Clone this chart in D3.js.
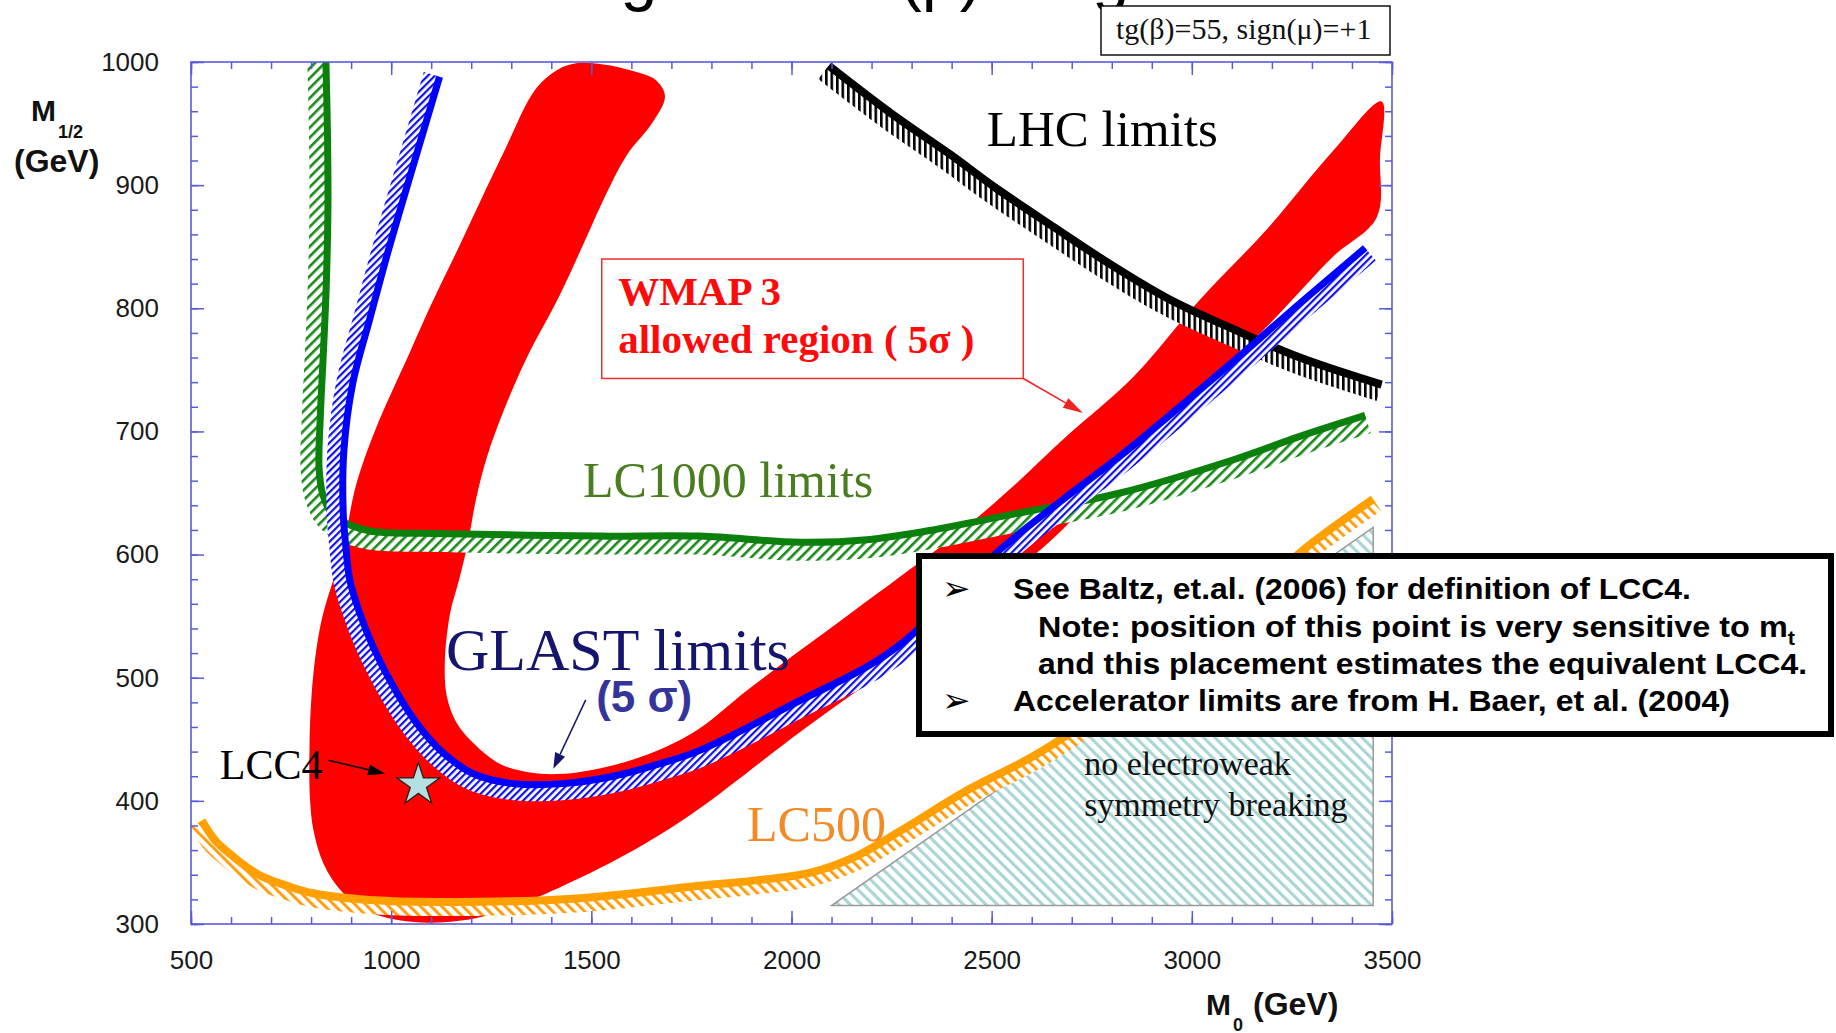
<!DOCTYPE html>
<html>
<head>
<meta charset="utf-8">
<script src="https://cdn.jsdelivr.net/npm/d3@7"></script>
<style>
  body { margin: 0; background: #fff; }
  svg { display: block; }
</style>
</head>
<body>
<svg id="chart" width="1836" height="1033"></svg>
<script>
// ---- datos (M0, M1/2 en GeV) ----
const xTickLabels = [500, 1000, 1500, 2000, 2500, 3000, 3500];
const yTickLabels = [300, 400, 500, 600, 700, 800, 900, 1000];

// región permitida WMAP 3 (contorno cerrado)
const wmapRegion = [
  [1462, 999], [1417, 994], [1361, 978], [1283, 928], [1230, 892], [1165, 847], [1100, 803],
  [1049, 766], [960, 701], [912, 656], [880, 606], [855, 579], [830, 552], [814, 525],
  [801, 485], [796, 444], [797, 403], [806, 376], [831, 349], [872, 328], [922, 314],
  [989, 305], [1089, 301], [1180, 303], [1264, 309], [1305, 314], [1389, 325], [1513, 344],
  [1638, 366], [1771, 394], [2030, 458], [2296, 520], [2500, 572], [2650, 612], [2771, 652],
  [2900, 695], [3020, 734], [3187, 785], [3353, 842], [3462, 874], [3470, 922], [3474, 968],
  [3353, 928], [3187, 864], [3020, 807], [2853, 744], [2687, 696], [2562, 658], [2438, 623],
  [2271, 582], [2146, 552], [2021, 522], [1890, 490], [1771, 459], [1680, 443], [1555, 429],
  [1430, 422], [1347, 423], [1272, 430], [1205, 447], [1164, 463], [1139, 485], [1134, 512],
  [1147, 552], [1170, 580], [1192, 610], [1212, 645], [1240, 680], [1280, 716], [1339, 760],
  [1420, 810], [1480, 852], [1530, 888], [1590, 925], [1651, 950], [1684, 972], [1662, 985],
  [1600, 993], [1530, 998]
];

// límite GLAST (5 sigma)
const glastLimit = [
  [1121, 988], [1057, 918], [993, 847], [948, 793], [904, 739], [882, 685], [880, 636],
  [886, 609], [897, 579], [922, 552], [955, 525], [1005, 493], [1064, 463], [1130, 439],
  [1205, 422], [1305, 414], [1430, 414], [1555, 420], [1680, 431], [1771, 441], [2000, 478],
  [2251, 522], [2521, 604], [2687, 647], [2821, 680], [3104, 757], [3270, 804], [3433, 849]
];

// límite LC1000
const lc1000Limit = [
  [837, 1000], [841, 940], [842, 880], [838, 820], [831, 766], [823, 712], [820, 670],
  [830, 648], [855, 632], [897, 624], [950, 619], [1138, 617], [1521, 615], [1771, 615],
  [2021, 610], [2188, 612], [2354, 620], [2479, 628], [2604, 636], [2821, 650], [3104, 677],
  [3270, 696], [3433, 713]
];

// límite LC500
const lc500Limit = [
  [527, 384], [560, 368], [597, 357], [640, 346], [681, 338], [740, 331], [805, 325],
  [972, 319], [1222, 318], [1472, 321], [1771, 331], [1900, 335], [2050, 342], [2161, 355],
  [2274, 376], [2441, 409], [2608, 437], [2800, 478], [3000, 527], [3150, 566], [3287, 606],
  [3453, 645]
];

// límite LHC
const lhcLimit = [
  [2093, 997], [2250, 958], [2396, 925], [2509, 898], [2655, 866], [2800, 835], [2940, 808],
  [3104, 783], [3270, 760], [3474, 738]
];

// sin ruptura electrodébil
const noEwsbRegion = [[2100, 315], [3453, 315], [3453, 622]];

const lcc4Point = [1068, 413];

// ---- escalas ----
const svg = d3.select('#chart');
const x = d3.scaleLinear().domain([500, 3500]).range([191, 1392]);
const y = d3.scaleLinear().domain([300, 1000]).range([924, 62]);

const frameColor = '#5a5ad8';
const serif = '"Liberation Serif", "Times New Roman", serif';
const sans = '"Liberation Sans", Arial, sans-serif';

const defs = svg.append('defs');
defs.append('clipPath').attr('id', 'plotClip')
  .append('rect')
  .attr('x', x(500)).attr('y', y(1000))
  .attr('width', x(3500) - x(500)).attr('height', y(300) - y(1000));

// rayado: franjas verticales giradas
function hatch(id, color, period, width, angle, bg) {
  const p = defs.append('pattern').attr('id', id)
    .attr('patternUnits', 'userSpaceOnUse')
    .attr('width', period).attr('height', period)
    .attr('patternTransform', `rotate(${angle})`);
  if (bg) p.append('rect').attr('width', period).attr('height', period).attr('fill', bg);
  p.append('rect').attr('width', width).attr('height', period).attr('fill', color);
}
hatch('hBlue', '#1010f0', 5, 2.2, 45, '#fff');
hatch('hGreen', '#178a17', 7, 2.6, 45, '#fff');
hatch('hOrange', '#ff9f10', 7.5, 3, -45, '#fff');
hatch('hBlack', '#000', 5.5, 2.6, 0, '#fff');
hatch('hTeal', '#a9d6d6', 8, 3.2, -45, '#fff');

const plot = svg.append('g').attr('clip-path', 'url(#plotClip)');

const curveLine = d3.line().x(d => x(d[0])).y(d => y(d[1])).curve(d3.curveCatmullRom.alpha(0.5));

function samplePath(pts) {
  const tmp = svg.append('path').attr('d', curveLine(pts));
  const node = tmp.node();
  const L = node.getTotalLength();
  const n = Math.ceil(L / 2);
  const out = d3.range(n + 1).map(i => {
    const p = node.getPointAtLength(L * i / n);
    return [p.x, p.y];
  });
  tmp.remove();
  return out;
}

// banda a un lado de la curva (normal = (-dy, dx))
function bandPath(s, w) {
  const off = s.map((p, i) => {
    const a = s[Math.max(i - 2, 0)], b = s[Math.min(i + 2, s.length - 1)];
    const dx = b[0] - a[0], dy = b[1] - a[1], l = Math.hypot(dx, dy) || 1;
    return [p[0] - dy / l * w, p[1] + dx / l * w];
  });
  return 'M' + s.concat(off.reverse()).map(p => p[0].toFixed(1) + ',' + p[1].toFixed(1)).join('L') + 'Z';
}

function limitCurve(pts, color, lineW, hatchW, pattern) {
  const s = samplePath(pts);
  plot.append('path').attr('d', bandPath(s, lineW / 2 + hatchW)).attr('fill', `url(#${pattern})`);
  plot.append('path').attr('d', curveLine(pts))
    .attr('fill', 'none').attr('stroke', color).attr('stroke-width', lineW)
    .attr('stroke-linejoin', 'round');
}

// 1. WMAP
plot.append('path')
  .datum(wmapRegion)
  .attr('d', d3.line().x(d => x(d[0])).y(d => y(d[1])).curve(d3.curveCatmullRomClosed.alpha(0.5)))
  .attr('fill', '#ff0000');

// 2. sin EWSB
plot.append('path')
  .datum(noEwsbRegion)
  .attr('d', d => 'M' + d.map(p => [x(p[0]), y(p[1])].join(',')).join('L') + 'Z')
  .attr('fill', 'url(#hTeal)')
  .attr('stroke', '#9a9a9a').attr('stroke-width', 1.5);

// 3. curvas de límite
limitCurve(lhcLimit, '#000', 8, 13, 'hBlack');
limitCurve(lc1000Limit, '#0c800c', 7, 15, 'hGreen');
limitCurve(glastLimit, '#0000ff', 7, 13, 'hBlue');
limitCurve(lc500Limit, '#ffa000', 8, 10, 'hOrange');

// estrella LCC4
svg.append('path')
  .attr('transform', `translate(${x(lcc4Point[0])},${y(lcc4Point[1])})`)
  .attr('d', d3.symbol(d3.symbolStar).size(560)())
  .attr('fill', '#b6dfe1').attr('stroke', '#222').attr('stroke-width', 1.3);

// flechas
function arrow(p0, p1, color, len, wid, sw) {
  const x0 = x(p0[0]), y0 = y(p0[1]), x1 = x(p1[0]), y1 = y(p1[1]);
  const a = Math.atan2(y1 - y0, x1 - x0);
  const bx = x1 - Math.cos(a) * len, by = y1 - Math.sin(a) * len;
  svg.append('line').attr('x1', x0).attr('y1', y0).attr('x2', bx).attr('y2', by)
    .attr('stroke', color).attr('stroke-width', sw);
  const nx = -Math.sin(a) * wid / 2, ny = Math.cos(a) * wid / 2;
  svg.append('path')
    .attr('d', `M${x1},${y1}L${bx + nx},${by + ny}L${bx - nx},${by - ny}Z`)
    .attr('fill', color);
}

// etiquetas dentro del gráfico
function label(txt, px, py, opts) {
  return svg.append('text')
    .attr('x', x(px)).attr('y', y(py))
    .attr('font-family', opts.family || serif)
    .attr('font-size', opts.size)
    .attr('font-weight', opts.weight || 'normal')
    .attr('fill', opts.color || '#000')
    .text(txt);
}

label('LHC limits', 2488, 932, { size: 51 });
label('LC1000 limits', 1479, 647, { size: 50, color: '#4a7d20' });
label('GLAST limits', 1137, 506, { size: 60, color: '#15156e' });
label('(5 σ)', 1512, 472, { size: 44, family: sans, weight: 'bold', color: '#34349a' });
label('LCC4', 572, 418, { size: 42 });
label('LC500', 1889, 367, { size: 50, color: '#f28a26' });
label('no electroweak', 2731, 421, { size: 34, color: '#111' });
label('symmetry breaking', 2731, 388, { size: 34, color: '#111' });

arrow([1486, 482], [1405, 426], '#15156e', 16, 11, 1.5);
arrow([843, 433], [985, 422], '#000', 17, 11, 1.6);

// caja WMAP
svg.append('rect')
  .attr('x', x(1526)).attr('y', y(840))
  .attr('width', x(2579) - x(1526)).attr('height', y(743) - y(840))
  .attr('fill', '#fff').attr('stroke', '#e83030').attr('stroke-width', 1.5);
label('WMAP 3', 1567, 803, { size: 41, weight: 'bold', color: '#ff0a0a' });
label('allowed region ( 5σ )', 1567, 764, { size: 41, weight: 'bold', color: '#ff0a0a' });
arrow([2579, 743], [2728, 715], '#ee2222', 20, 11, 1.5);

// ---- ejes ----
function styleAxis(sel) {
  sel.select('.domain').remove();
  sel.selectAll('line').attr('stroke', frameColor).attr('stroke-width', 1.5);
  sel.selectAll('text').attr('font-family', sans).attr('font-size', 26).attr('fill', '#1a1a1a');
}
svg.append('g').attr('transform', `translate(0,${y(300)})`)
  .call(d3.axisBottom(x).ticks(30).tickFormat('').tickSizeInner(-7).tickSizeOuter(0)).call(styleAxis);
svg.append('g').attr('transform', `translate(0,${y(300)})`)
  .call(d3.axisBottom(x).tickValues(xTickLabels).tickFormat(d3.format('d')).tickSizeInner(-13).tickSizeOuter(0).tickPadding(27))
  .call(styleAxis);
svg.append('g').attr('transform', `translate(0,${y(1000)})`)
  .call(d3.axisTop(x).ticks(30).tickFormat('').tickSizeInner(-7).tickSizeOuter(0)).call(styleAxis);
svg.append('g').attr('transform', `translate(0,${y(1000)})`)
  .call(d3.axisTop(x).tickValues(xTickLabels).tickFormat('').tickSizeInner(-13).tickSizeOuter(0)).call(styleAxis);
svg.append('g').attr('transform', `translate(${x(500)},0)`)
  .call(d3.axisLeft(y).ticks(35).tickFormat('').tickSizeInner(-7).tickSizeOuter(0)).call(styleAxis);
svg.append('g').attr('transform', `translate(${x(500)},0)`)
  .call(d3.axisLeft(y).tickValues(yTickLabels).tickFormat(d3.format('d')).tickSizeInner(-13).tickSizeOuter(0).tickPadding(32))
  .call(styleAxis);
svg.append('g').attr('transform', `translate(${x(3500)},0)`)
  .call(d3.axisRight(y).ticks(35).tickFormat('').tickSizeInner(-7).tickSizeOuter(0)).call(styleAxis);
svg.append('g').attr('transform', `translate(${x(3500)},0)`)
  .call(d3.axisRight(y).tickValues(yTickLabels).tickFormat('').tickSizeInner(-13).tickSizeOuter(0)).call(styleAxis);

svg.append('rect')
  .attr('x', x(500)).attr('y', y(1000))
  .attr('width', x(3500) - x(500)).attr('height', y(300) - y(1000))
  .attr('fill', 'none').attr('stroke', frameColor).attr('stroke-width', 1.6);

// títulos de ejes
const yl = svg.append('g').attr('font-family', sans).attr('font-weight', 'bold').attr('fill', '#111');
yl.append('text').attr('x', 31).attr('y', 121).attr('font-size', 30).text('M');
yl.append('text').attr('x', 58).attr('y', 138).attr('font-size', 18).text('1/2');
yl.append('text').attr('x', 14).attr('y', 172).attr('font-size', 32).text('(GeV)');

const xl = svg.append('g').attr('font-family', sans).attr('font-weight', 'bold').attr('fill', '#111');
xl.append('text').attr('x', 1206).attr('y', 1015).attr('font-size', 30).text('M');
xl.append('text').attr('x', 1233).attr('y', 1031).attr('font-size', 18).text('0');
xl.append('text').attr('x', 1253).attr('y', 1015).attr('font-size', 32).text('(GeV)');

// título de la diapositiva (cortado arriba)
const title = svg.append('text').attr('y', -2).attr('font-family', sans).attr('font-size', 66).attr('fill', '#000');
title.append('tspan').attr('x', 525).text('Large');
title.append('tspan').attr('x', 808).text('tan(β)');
title.append('tspan').attr('x', 1008).text('Region');

// caja de parámetros
svg.append('rect').attr('x', 1101).attr('y', 6).attr('width', 289).attr('height', 49)
  .attr('fill', '#fff').attr('stroke', '#111').attr('stroke-width', 1.5);
svg.append('text').attr('x', 1116).attr('y', 39).attr('font-family', serif).attr('font-size', 30)
  .attr('fill', '#111').text('tg(β)=55, sign(μ)=+1');

// caja de notas
svg.append('rect').attr('x', 919).attr('y', 556).attr('width', 912).attr('height', 178)
  .attr('fill', '#fff').attr('stroke', '#000').attr('stroke-width', 6);

const notes = [
  { x: 1013, y: 599, len: 678, bullet: true, text: 'See Baltz, et.al. (2006) for definition of LCC4.' },
  { x: 1038, y: 637, len: 757, bullet: false, text: 'Note: position of this point is very sensitive to m', sub: 't' },
  { x: 1038, y: 674, len: 769, bullet: false, text: 'and this placement estimates the equivalent LCC4.' },
  { x: 1013, y: 711, len: 717, bullet: true, text: 'Accelerator limits are from H. Baer, et al. (2004)' }
];
notes.forEach(n => {
  const t = svg.append('text').attr('x', n.x).attr('y', n.y)
    .attr('font-family', '"Liberation Sans Narrow", "Liberation Sans", Arial, sans-serif')
    .attr('font-weight', 'bold').attr('font-size', 30).attr('fill', '#000')
    .attr('textLength', n.len).attr('lengthAdjust', 'spacingAndGlyphs');
  t.append('tspan').text(n.text);
  if (n.sub) t.append('tspan').attr('dy', 8).attr('font-size', 20).text(n.sub);
  if (n.bullet) {
    svg.append('text').attr('x', 942).attr('y', n.y + 1)
      .attr('font-family', '"DejaVu Sans", sans-serif').attr('font-size', 34).attr('fill', '#000')
      .text('➢');
  }
});
</script>
</body>
</html>
